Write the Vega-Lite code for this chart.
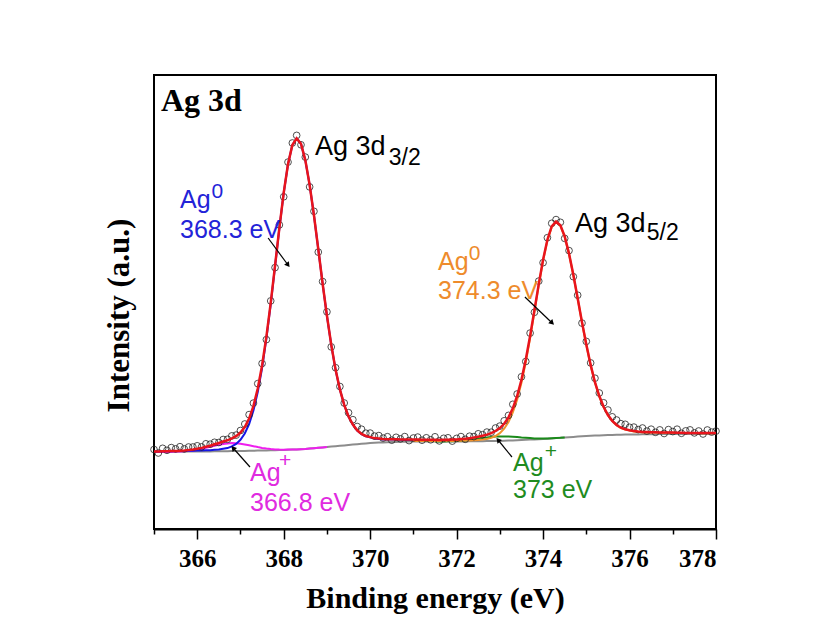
{
"$schema":"https://vega.github.io/schema/vega-lite/v6.json",
"width":562,"height":454,
"autosize":{"type":"none"},
"padding":{"left":154,"top":75,"right":102,"bottom":95},
"background":"white",
"config":{
 "view":{"stroke":"black","strokeWidth":2},
 "axisX":{"domainColor":"black","domainWidth":2,"tickColor":"black","tickWidth":1.5,"grid":false,
  "labelFont":"Liberation Serif","labelFontWeight":"bold","labelFontSize":25,"labelColor":"black","labelPadding":7,
  "titleFont":"Liberation Serif","titleFontWeight":"bold","titleFontSize":30,"titleColor":"black","titleBaseline":"alphabetic","titleY":78},
 "axisY":{"domain":false,"ticks":false,"labels":false,"grid":false,
  "titleFont":"Liberation Serif","titleFontWeight":"bold","titleFontSize":31,"titleColor":"black","titleBaseline":"alphabetic","titleX":-26,"titleY":240}
},
"datasets":{
"xps":[
{"e":365.0,"bg":77,"a1":77.5,"m":77,"fit":77.5,"obs":79.5},
{"e":365.1,"bg":77,"a1":77.5,"m":77,"fit":77.5,"obs":76.0},
{"e":365.2,"bg":77.1,"a1":77.7,"m":77.1,"fit":77.7,"obs":80.7},
{"e":365.3,"bg":77.1,"a1":77.7,"m":77.1,"fit":77.7,"obs":78.7},
{"e":365.4,"bg":77.2,"a1":77.8,"m":77.3,"fit":77.9,"obs":81.4},
{"e":365.5,"bg":77.2,"a1":77.9,"m":77.4,"fit":78.1,"obs":80.1},
{"e":365.6,"bg":77.3,"a1":78.0,"m":77.6,"fit":78.3,"obs":82.3},
{"e":365.7,"bg":77.3,"a1":78.1,"m":77.8,"fit":78.6,"obs":80.1},
{"e":365.8,"bg":77.4,"a1":78.2,"m":78.2,"fit":79.0,"obs":82.0},
{"e":365.9,"bg":77.4,"a1":78.3,"m":78.6,"fit":79.5,"obs":82.0},
{"e":366.0,"bg":77.5,"a1":78.4,"m":79.3,"fit":80.2,"obs":83.2},
{"e":366.1,"bg":77.5,"a1":78.5,"m":80.1,"fit":81.1,"obs":82.1},
{"e":366.2,"bg":77.6,"a1":78.7,"m":81.1,"fit":82.2,"obs":85.2},
{"e":366.3,"bg":77.6,"a1":78.8,"m":82.1,"fit":83.3,"obs":84.8},
{"e":366.4,"bg":77.7,"a1":79.2,"m":83.2,"fit":84.7,"obs":86.7},
{"e":366.5,"bg":77.7,"a1":79.5,"m":84.2,"fit":86.0,"obs":86.5},
{"e":366.6,"bg":77.8,"a1":80.2,"m":85.1,"fit":87.5,"obs":89.5},
{"e":366.7,"bg":77.8,"a1":80.9,"m":85.6,"fit":88.7,"obs":89.7},
{"e":366.8,"bg":77.9,"a1":82.6,"m":85.9,"fit":90.6,"obs":93.1},
{"e":366.9,"bg":77.9,"a1":85.1,"m":85.7,"fit":92.9,"obs":93.9},
{"e":367.0,"bg":78.0,"a1":89.2,"m":85.3,"fit":96.5,"obs":98.5},
{"e":367.1,"bg":78.1,"a1":95.5,"m":84.6,"fit":102.0,"obs":105.0},
{"e":367.2,"bg":78.2,"a1":104.9,"m":83.7,"fit":110.4,"obs":114.4},
{"e":367.3,"bg":78.3,"a1":118.4,"m":82.8,"fit":122.9,"obs":125.9},
{"e":367.4,"bg":78.4,"a1":136.9,"m":81.9,"fit":140.4,"obs":145.4},
{"e":367.5,"bg":78.5,"a1":160.9,"m":81.1,"fit":163.5,"obs":165.5},
{"e":367.6,"bg":78.6,"a1":190.6,"m":80.4,"fit":192.4,"obs":189.4},
{"e":367.7,"bg":78.7,"a1":224.9,"m":79.9,"fit":226.1,"obs":228.1},
{"e":367.8,"bg":78.8,"a1":262.6,"m":79.6,"fit":263.4,"obs":261.4},
{"e":367.9,"bg":78.9,"a1":300.6,"m":79.4,"fit":301.1,"obs":304.1},
{"e":368.0,"bg":79.0,"a1":335.9,"m":79.3,"fit":336.2,"obs":332.2},
{"e":368.1,"bg":79.2,"a1":364.7,"m":79.4,"fit":364.9,"obs":366.9},
{"e":368.2,"bg":79.4,"a1":383.9,"m":79.5,"fit":384.0,"obs":386.0},
{"e":368.3,"bg":79.6,"a1":390.6,"m":79.6,"fit":390.6,"obs":393.6},
{"e":368.4,"bg":79.8,"a1":385.2,"m":79.8,"fit":385.2,"obs":384.2},
{"e":368.5,"bg":80.0,"a1":368.9,"m":80.0,"fit":368.9,"obs":371.9},
{"e":368.6,"bg":80.4,"a1":344.1,"m":80.4,"fit":344.1,"obs":342.1},
{"e":368.7,"bg":80.8,"a1":313.7,"m":80.8,"fit":313.7,"obs":317.7},
{"e":368.8,"bg":81.2,"a1":279.9,"m":81.2,"fit":279.9,"obs":276.9},
{"e":368.9,"bg":81.6,"a1":245.5,"m":81.6,"fit":245.5,"obs":247.5},
{"e":369.0,"bg":82.0,"a1":213.2,"m":82.0,"fit":213.3,"obs":217.2},
{"e":369.1,"bg":82.4,"a1":184.1,"fit":184.2,"obs":182.1},
{"e":369.2,"bg":82.8,"a1":159.3,"fit":159.4,"obs":161.3},
{"e":369.3,"bg":83.2,"a1":139.5,"fit":139.6,"obs":142.5},
{"e":369.4,"bg":83.6,"a1":124.0,"fit":124.1,"obs":126.0},
{"e":369.5,"bg":84.0,"a1":112.3,"fit":112.5,"obs":116.3},
{"e":369.6,"bg":84.4,"a1":104.3,"fit":104.5,"obs":109.3},
{"e":369.7,"bg":84.8,"a1":98.5,"fit":98.7,"obs":102.5},
{"e":369.8,"bg":85.2,"a1":94.8,"fit":95.0,"obs":99.8},
{"e":369.9,"bg":85.6,"a1":92.8,"fit":93.0,"obs":95.8},
{"e":370.0,"bg":86.0,"a1":91.6,"fit":91.9,"obs":95.9},
{"e":370.1,"bg":86.2,"a1":90.6,"fit":90.9,"obs":92.9},
{"e":370.2,"bg":86.4,"a1":90.1,"fit":90.4,"obs":93.4},
{"e":370.3,"bg":86.6,"a1":89.6,"fit":89.9,"obs":90.9},
{"e":370.4,"bg":86.8,"a1":89.5,"fit":89.8,"obs":92.3},
{"e":370.5,"bg":87.0,"a1":89.5,"fit":89.8,"obs":88.8},
{"e":370.6,"bg":87.1,"a1":89.4,"fit":89.7,"obs":91.7},
{"e":370.7,"bg":87.2,"a1":89.3,"fit":89.6,"obs":90.1},
{"e":370.8,"bg":87.3,"a1":89.1,"fit":89.4,"obs":92.4},
{"e":370.9,"bg":87.4,"a1":89.1,"fit":89.4,"obs":88.4},
{"e":371.0,"bg":87.5,"a1":89.1,"a2":87.9,"fit":89.5,"obs":91.0},
{"e":371.1,"bg":87.5,"a2":87.9,"fit":89.4,"obs":91.9},
{"e":371.2,"bg":87.5,"a2":87.9,"fit":89.3,"obs":88.8},
{"e":371.3,"bg":87.5,"a2":87.9,"fit":89.2,"obs":91.2},
{"e":371.4,"bg":87.5,"a2":87.9,"fit":89.2,"obs":89.2},
{"e":371.5,"bg":87.5,"a2":88.0,"g":87.5,"fit":89.2,"obs":92.2},
{"e":371.6,"bg":87.5,"a2":88.0,"g":87.5,"fit":89.1,"obs":88.1},
{"e":371.7,"bg":87.5,"a2":88.0,"g":87.6,"fit":89.2,"obs":90.7},
{"e":371.8,"bg":87.5,"a2":88.0,"g":87.7,"fit":89.2,"obs":91.2},
{"e":371.9,"bg":87.5,"a2":88.1,"g":87.8,"fit":89.4,"obs":87.9},
{"e":372.0,"bg":87.5,"a2":88.2,"g":88.0,"fit":89.6,"obs":90.6},
{"e":372.1,"bg":87.6,"a2":88.3,"g":88.3,"fit":89.9,"obs":92.4},
{"e":372.2,"bg":87.6,"a2":88.4,"g":88.6,"fit":90.2,"obs":89.7},
{"e":372.3,"bg":87.7,"a2":88.6,"g":89.2,"fit":90.8,"obs":92.8},
{"e":372.4,"bg":87.7,"a2":88.7,"g":89.7,"fit":91.4,"obs":92.4},
{"e":372.5,"bg":87.8,"a2":89.1,"g":90.3,"fit":92.2,"obs":95.2},
{"e":372.6,"bg":87.8,"a2":89.5,"g":90.9,"fit":93.3,"obs":94.3},
{"e":372.7,"bg":87.9,"a2":90.1,"g":91.6,"fit":94.4,"obs":96.9},
{"e":372.8,"bg":87.9,"a2":91.1,"g":92.0,"fit":95.8,"obs":96.8},
{"e":372.9,"bg":88.0,"a2":93.0,"g":92.4,"fit":98.0,"obs":101.0},
{"e":373.0,"bg":88.0,"a2":95.8,"g":92.5,"fit":100.9,"obs":102.9},
{"e":373.1,"bg":88.2,"a2":100.3,"g":92.6,"fit":105.2,"obs":108.2},
{"e":373.2,"bg":88.4,"a2":107.0,"g":92.5,"fit":111.6,"obs":113.6},
{"e":373.3,"bg":88.6,"a2":116.5,"g":92.3,"fit":120.7,"obs":124.7},
{"e":373.4,"bg":88.8,"a2":129.4,"g":91.9,"fit":133.0,"obs":135.0},
{"e":373.5,"bg":89.0,"a2":146.2,"g":91.5,"fit":149.2,"obs":152.2},
{"e":373.6,"bg":89.2,"a2":167.0,"g":91.2,"fit":169.5,"obs":167.5},
{"e":373.7,"bg":89.4,"a2":190.9,"g":90.9,"fit":192.9,"obs":195.9},
{"e":373.8,"bg":89.6,"a2":217.3,"g":90.6,"fit":218.7,"obs":216.7},
{"e":373.9,"bg":89.8,"a2":243.8,"g":90.5,"fit":244.9,"obs":247.9},
{"e":374.0,"bg":90.0,"a2":268.4,"g":90.5,"fit":269.3,"obs":266.3},
{"e":374.1,"bg":90.3,"a2":288.6,"g":90.6,"fit":289.3,"obs":291.3},
{"e":374.2,"bg":90.6,"a2":302.1,"g":90.8,"fit":302.7,"obs":305.7},
{"e":374.3,"bg":90.9,"a2":306.9,"g":91.0,"fit":307.4,"obs":309.4},
{"e":374.4,"bg":91.2,"a2":303.3,"g":91.2,"fit":303.7,"obs":306.7},
{"e":374.5,"bg":91.5,"a2":292.2,"g":91.5,"fit":292.6,"obs":290.6},
{"e":374.6,"bg":91.8,"a2":275.0,"fit":275.4,"obs":278.4},
{"e":374.7,"bg":92.1,"a2":253.9,"fit":254.3,"obs":252.3},
{"e":374.8,"bg":92.4,"a2":230.4,"fit":230.8,"obs":233.8},
{"e":374.9,"bg":92.7,"a2":206.5,"fit":206.9,"obs":205.9},
{"e":375.0,"bg":93.0,"a2":184.2,"fit":184.6,"obs":187.6},
{"e":375.1,"bg":93.2,"a2":163.8,"fit":164.1,"obs":166.1},
{"e":375.2,"bg":93.4,"a2":146.5,"fit":146.8,"obs":150.8},
{"e":375.3,"bg":93.6,"a2":132.7,"fit":133.0,"obs":136.0},
{"e":375.4,"bg":93.8,"a2":121.9,"fit":122.2,"obs":126.2},
{"e":375.5,"bg":94.0,"a2":113.7,"fit":114.0,"obs":119.0},
{"e":375.6,"bg":94.1,"a2":107.9,"fit":108.2,"obs":112.2},
{"e":375.7,"bg":94.2,"a2":103.7,"fit":104.0,"obs":109.0},
{"e":375.8,"bg":94.3,"a2":101.0,"fit":101.3,"obs":105.3},
{"e":375.9,"bg":94.4,"a2":99.4,"fit":99.7,"obs":104.7},
{"e":376.0,"bg":94.5,"a2":98.4,"fit":98.7,"obs":101.7},
{"e":376.1,"bg":94.6,"a2":97.6,"fit":97.9,"obs":101.9},
{"e":376.2,"bg":94.6,"a2":97.1,"fit":97.4,"obs":99.4},
{"e":376.3,"bg":94.7,"a2":96.8,"fit":97.0,"obs":101.0},
{"e":376.4,"bg":94.7,"a2":96.6,"fit":96.9,"obs":97.9},
{"e":376.5,"bg":94.8,"a2":96.5,"fit":96.8,"obs":99.8},
{"e":376.6,"bg":94.8,"a2":96.4,"fit":96.7,"obs":96.7},
{"e":376.7,"bg":94.9,"a2":96.3,"fit":96.6,"obs":99.1},
{"e":376.8,"bg":94.9,"a2":96.2,"fit":96.5,"obs":95.5},
{"e":376.9,"bg":95.0,"a2":96.2,"fit":96.4,"obs":99.4},
{"e":377.0,"bg":95.0,"a2":96.2,"fit":96.4,"obs":97.4},
{"e":377.1,"bg":95.0,"a2":96.1,"fit":96.3,"obs":99.8},
{"e":377.2,"bg":95.0,"a2":96.0,"fit":96.2,"obs":95.7},
{"e":377.3,"bg":95.0,"a2":95.9,"fit":96.1,"obs":98.1},
{"e":377.4,"bg":95.0,"a2":95.9,"fit":96.1,"obs":99.1},
{"e":377.5,"bg":95.0,"a2":95.9,"fit":96.1,"obs":96.1},
{"e":377.6,"bg":95.0,"a2":95.8,"fit":96.0,"obs":98.0},
{"e":377.7,"bg":95.0,"a2":95.8,"fit":96.0,"obs":95.0},
{"e":377.8,"bg":95.0,"a2":95.8,"fit":96.0,"obs":99.0},
{"e":377.9,"bg":95.0,"a2":95.7,"fit":95.9,"obs":96.9},
{"e":378.0,"bg":95.0,"a2":95.7,"fit":95.9,"obs":97.9}
],
"ann":[
{"e":368.724,"v":374,"t":"Ag 3d","c":"pk","r":"big"},
{"e":370.43,"v":364,"t":"3/2","c":"pk","r":"sub"},
{"e":374.739,"v":297,"t":"Ag 3d","c":"pk","r":"big"},
{"e":376.40,"v":289,"t":"5/2","c":"pk","r":"sub"},
{"e":365.601,"v":321,"t":"Ag","c":"a","r":"lab"},
{"e":366.33,"v":331,"t":"0","c":"a","r":"sup"},
{"e":365.601,"v":291,"t":"368.3 eV","c":"a","r":"lab"},
{"e":371.569,"v":259,"t":"Ag","c":"b","r":"lab"},
{"e":372.28,"v":269,"t":"0","c":"b","r":"sup"},
{"e":371.569,"v":230,"t":"374.3 eV","c":"b","r":"lab"},
{"e":367.221,"v":48,"t":"Ag","c":"m","r":"lab"},
{"e":367.89,"v":62,"t":"+","c":"m","r":"sup"},
{"e":367.221,"v":18,"t":"366.8 eV","c":"m","r":"lab"},
{"e":373.304,"v":58,"t":"Ag","c":"g","r":"lab"},
{"e":374.04,"v":71,"t":"+","c":"g","r":"sup"},
{"e":373.304,"v":31,"t":"373 eV","c":"g","r":"lab"}
],
"arrows":[
{"id":"a","e":367.64,"v":291,"e2":368.10,"v2":264},
{"id":"b","e":373.58,"v":232,"e2":374.21,"v2":206},
{"id":"m","e":367.22,"v":62,"e2":366.83,"v2":81},
{"id":"g","e":373.28,"v":72,"e2":372.96,"v2":89}
]
},
"encoding":{
 "x":{"field":"e","type":"quantitative","title":"Binding energy (eV)",
  "scale":{"domain":[365,378],"nice":false,"zero":false},
  "axis":{"values":[365,366,367,368,369,370,371,372,373,374,375,376,377,378],"format":"d",
   "labelExpr":"datum.value % 2 === 0 ? datum.label : ''",
   "tickSize":{"condition":{"test":"datum.value % 2 === 0","value":10},"value":5}}}
},
"layer":[
 {"data":{"name":"xps"},"mark":{"type":"line","color":"#8c8c8c","strokeWidth":2},
  "encoding":{"y":{"field":"bg","type":"quantitative","title":"Intensity (a.u.)","scale":{"domain":[0,454],"nice":false,"zero":false}}}},
 {"data":{"name":"xps"},"transform":[{"filter":"isValid(datum.m)"}],"mark":{"type":"line","color":"#ee1fee","strokeWidth":2},
  "encoding":{"y":{"field":"m","type":"quantitative","title":"Intensity (a.u.)","scale":{"domain":[0,454],"nice":false,"zero":false}}}},
 {"data":{"name":"xps"},"transform":[{"filter":"isValid(datum.g)"}],"mark":{"type":"line","color":"#1a8a1a","strokeWidth":2},
  "encoding":{"y":{"field":"g","type":"quantitative","title":"Intensity (a.u.)","scale":{"domain":[0,454],"nice":false,"zero":false}}}},
 {"data":{"name":"xps"},"transform":[{"filter":"isValid(datum.a1)"}],"mark":{"type":"line","color":"#1515e6","strokeWidth":2},
  "encoding":{"y":{"field":"a1","type":"quantitative","title":"Intensity (a.u.)","scale":{"domain":[0,454],"nice":false,"zero":false}}}},
 {"data":{"name":"xps"},"transform":[{"filter":"isValid(datum.a2)"}],"mark":{"type":"line","color":"#f0922b","strokeWidth":2},
  "encoding":{"y":{"field":"a2","type":"quantitative","title":"Intensity (a.u.)","scale":{"domain":[0,454],"nice":false,"zero":false}}}},
 {"data":{"name":"xps"},"mark":{"type":"point","shape":"circle","filled":false,"stroke":"#222222","strokeWidth":0.8,"size":45,"opacity":1},
  "encoding":{"y":{"field":"obs","type":"quantitative","title":"Intensity (a.u.)","scale":{"domain":[0,454],"nice":false,"zero":false}}}},
 {"data":{"name":"xps"},"mark":{"type":"line","color":"#e8141c","strokeWidth":2.5},
  "encoding":{"y":{"field":"fit","type":"quantitative","title":"Intensity (a.u.)","scale":{"domain":[0,454],"nice":false,"zero":false}}}},
 {"data":{"name":"arrows"},"mark":{"type":"rule","color":"black","strokeWidth":1.2},
  "encoding":{"y":{"field":"v","type":"quantitative","title":"Intensity (a.u.)","scale":{"domain":[0,454],"nice":false,"zero":false}},
   "x2":{"field":"e2"},"y2":{"field":"v2"}}},
 {"data":{"name":"arrows"},"transform":[{"filter":"datum.id === 'a'"}],"mark":{"type":"point","shape":"triangle-up","filled":true,"color":"black","size":35,"angle":143,"opacity":1},
  "encoding":{"x":{"field":"e2","type":"quantitative"},"y":{"field":"v2","type":"quantitative","title":"Intensity (a.u.)","scale":{"domain":[0,454],"nice":false,"zero":false}}}},
 {"data":{"name":"arrows"},"transform":[{"filter":"datum.id === 'b'"}],"mark":{"type":"point","shape":"triangle-up","filled":true,"color":"black","size":35,"angle":134,"opacity":1},
  "encoding":{"x":{"field":"e2","type":"quantitative"},"y":{"field":"v2","type":"quantitative","title":"Intensity (a.u.)","scale":{"domain":[0,454],"nice":false,"zero":false}}}},
 {"data":{"name":"arrows"},"transform":[{"filter":"datum.id === 'm'"}],"mark":{"type":"point","shape":"triangle-up","filled":true,"color":"black","size":35,"angle":318,"opacity":1},
  "encoding":{"x":{"field":"e2","type":"quantitative"},"y":{"field":"v2","type":"quantitative","title":"Intensity (a.u.)","scale":{"domain":[0,454],"nice":false,"zero":false}}}},
 {"data":{"name":"arrows"},"transform":[{"filter":"datum.id === 'g'"}],"mark":{"type":"point","shape":"triangle-up","filled":true,"color":"black","size":35,"angle":320,"opacity":1},
  "encoding":{"x":{"field":"e2","type":"quantitative"},"y":{"field":"v2","type":"quantitative","title":"Intensity (a.u.)","scale":{"domain":[0,454],"nice":false,"zero":false}}}},
 {"data":{"name":"ann"},"mark":{"type":"text","align":"left","baseline":"alphabetic","font":"Liberation Sans"},
  "encoding":{"y":{"field":"v","type":"quantitative","title":"Intensity (a.u.)","scale":{"domain":[0,454],"nice":false,"zero":false}},
   "text":{"field":"t"},
   "color":{"field":"c","type":"nominal","scale":{"domain":["pk","a","b","m","g"],"range":["#000000","#2323d8","#ee8b2c","#e02be0","#1f8c1f"]},"legend":null},
   "size":{"field":"r","type":"ordinal","scale":{"domain":["big","lab","sub","sup"],"range":[27,21,14,13]},"legend":null}}},
 {"data":{"values":[{"e":365.162,"v":418,"t":"Ag 3d"}]},"mark":{"type":"text","align":"left","baseline":"alphabetic","font":"Liberation Serif","fontWeight":"bold","fontSize":32,"color":"black"},
  "encoding":{"y":{"field":"v","type":"quantitative","title":"Intensity (a.u.)","scale":{"domain":[0,454],"nice":false,"zero":false}},"text":{"field":"t"}}}
]
}
